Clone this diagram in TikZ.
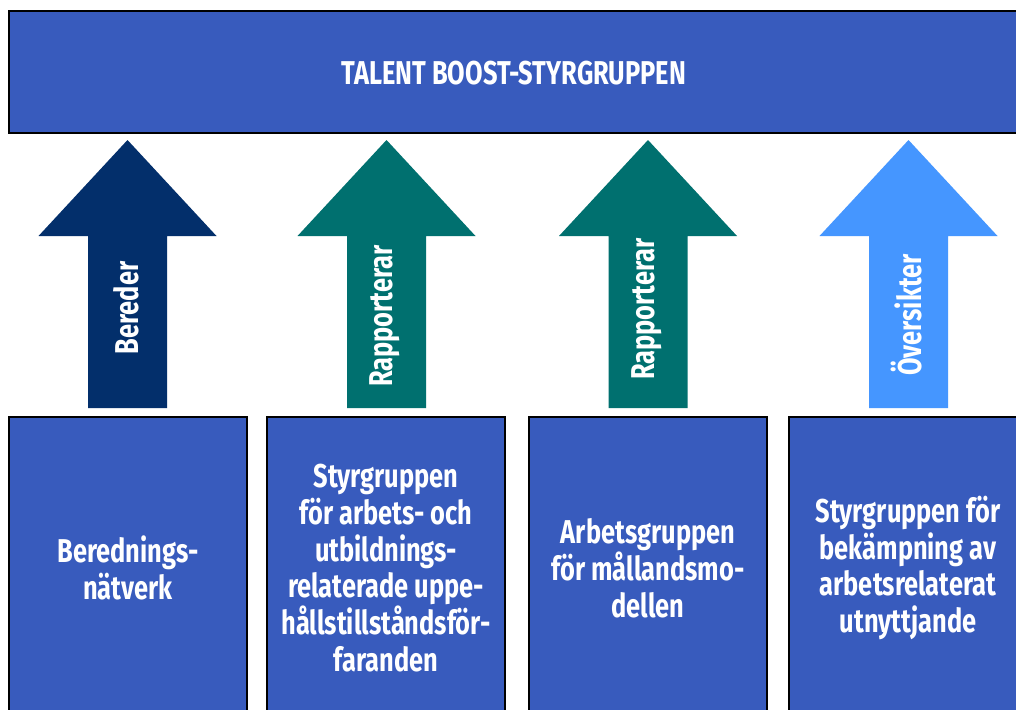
\documentclass[tikz,border=0pt]{standalone}
\usepackage{fontspec}
\newfontfamily\cf{Fira Sans}[FakeStretch=0.77]
\definecolor{boxblue}{RGB}{56,91,189}
\definecolor{navy}{RGB}{3,47,107}
\definecolor{teal}{RGB}{0,112,111}
\definecolor{lightblue}{RGB}{69,150,255}
\begin{document}
\begin{tikzpicture}[x=1pt,y=-1pt,
  panel/.style={draw=black, line width=2.2pt, fill=boxblue, inner sep=0pt, outer sep=0pt},
  lbl/.style={text=white, font=\cf\bfseries\fontsize{33}{36.8}\selectfont, align=center, inner sep=0pt},
  arrowlbl/.style={lbl, rotate=90}]
\useasboundingbox (0,0) rectangle (1016,709);
\clip (0,0) rectangle (1016,709);
\fill[white] (0,0) rectangle (1016,709);
\newcommand\uparr[3]{\fill[#2] (#1,140) -- (#1+89,236) -- (#1+39.5,236) -- (#1+39.5,408) -- (#1-39.5,408) -- (#1-39.5,236) -- (#1-89,236) -- cycle;
  \node[arrowlbl] (#3) at (#1,312) {\phantom{}};}
% top box
\node[panel, minimum width=1018pt, minimum height=122pt] (top) at (518,72) {};
\node[lbl] (title) at (514,73) {TALENT BOOST-STYRGRUPPEN};
% bottom boxes
\node[panel, minimum width=238pt, minimum height=302pt] (b1) at (128,568) {};
\node[panel, minimum width=238pt, minimum height=302pt] (b2) at (386,568) {};
\node[panel, minimum width=238pt, minimum height=302pt] (b3) at (648,568) {};
\node[panel, minimum width=238pt, minimum height=302pt] (b4) at (908,568) {};
\node[lbl] (t1) at (b1) {Berednings-\\nätverk};
\node[lbl] (t2) at (b2) {Styrgruppen\\för arbets- och\\utbildnings-\\relaterade uppe-\\hållstillståndsför-\\faranden};
\node[lbl] (t3) at (b3) {Arbetsgruppen\\för mållandsmo-\\dellen};
\node[lbl] (t4) at (b4) {Styrgruppen för\\bekämpning av\\arbetsrelaterat\\utnyttjande};
% arrows
\fill[navy] (127.5,140) -- (216.5,236) -- (167,236) -- (167,408) -- (88,408) -- (88,236) -- (38.5,236) -- cycle;
\fill[teal] (386.5,140) -- (475.5,236) -- (426,236) -- (426,408) -- (347,408) -- (347,236) -- (297.5,236) -- cycle;
\fill[teal] (648,140) -- (737,236) -- (687.5,236) -- (687.5,408) -- (608.5,408) -- (608.5,236) -- (559,236) -- cycle;
\fill[lightblue] (908.5,140) -- (997.5,236) -- (948,236) -- (948,408) -- (869,408) -- (869,236) -- (819.5,236) -- cycle;
\node[arrowlbl] (a1) at (126,308) {Bereder};
\node[arrowlbl] (a2) at (385,316) {Rapporterar};
\node[arrowlbl] (a3) at (647,309) {Rapporterar};
\node[arrowlbl] (a4) at (907,315) {Översikter};
\end{tikzpicture}
\end{document}
